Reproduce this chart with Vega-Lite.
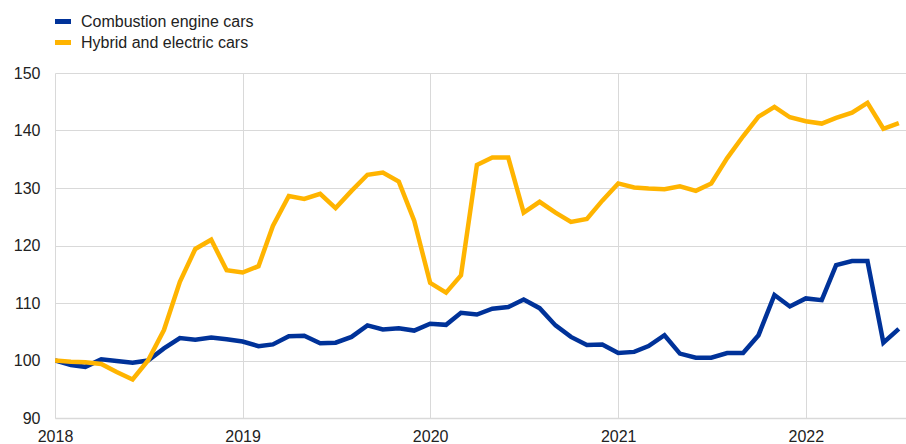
{
  "$schema": "https://vega.github.io/schema/vega-lite/v6.json",
  "width": 851,
  "height": 345,
  "autosize": {"type": "none"},
  "padding": {"left": 55, "top": 73, "right": 0, "bottom": 26},
  "background": "white",
  "config": {
    "view": {"stroke": null},
    "font": "Liberation Sans",
    "axis": {"labelFont": "Liberation Sans", "labelFontSize": 16, "labelColor": "#222222", "gridColor": "#d9d9d9", "gridWidth": 1, "ticks": false, "title": null},
    "legend": {"labelFont": "Liberation Sans", "labelFontSize": 16, "labelColor": "#222222", "labelLimit": 400}
  },
  "data": {
    "values": [
      {"date": "2018-01-01", "Combustion engine cars": 100.0, "Hybrid and electric cars": 100.0},
      {"date": "2018-02-01", "Combustion engine cars": 99.2, "Hybrid and electric cars": 99.8},
      {"date": "2018-03-01", "Combustion engine cars": 98.9, "Hybrid and electric cars": 99.7},
      {"date": "2018-04-01", "Combustion engine cars": 100.2, "Hybrid and electric cars": 99.4},
      {"date": "2018-05-01", "Combustion engine cars": 99.9, "Hybrid and electric cars": 98.0},
      {"date": "2018-06-01", "Combustion engine cars": 99.6, "Hybrid and electric cars": 96.7},
      {"date": "2018-07-01", "Combustion engine cars": 100.0, "Hybrid and electric cars": 100.0},
      {"date": "2018-08-01", "Combustion engine cars": 102.1, "Hybrid and electric cars": 105.3},
      {"date": "2018-09-01", "Combustion engine cars": 103.9, "Hybrid and electric cars": 113.7},
      {"date": "2018-10-01", "Combustion engine cars": 103.6, "Hybrid and electric cars": 119.4},
      {"date": "2018-11-01", "Combustion engine cars": 104.0, "Hybrid and electric cars": 121.0},
      {"date": "2018-12-01", "Combustion engine cars": 103.7, "Hybrid and electric cars": 115.7},
      {"date": "2019-01-01", "Combustion engine cars": 103.3, "Hybrid and electric cars": 115.3},
      {"date": "2019-02-01", "Combustion engine cars": 102.5, "Hybrid and electric cars": 116.4},
      {"date": "2019-03-01", "Combustion engine cars": 102.8, "Hybrid and electric cars": 123.4},
      {"date": "2019-04-01", "Combustion engine cars": 104.2, "Hybrid and electric cars": 128.6},
      {"date": "2019-05-01", "Combustion engine cars": 104.3, "Hybrid and electric cars": 128.1},
      {"date": "2019-06-01", "Combustion engine cars": 103.0, "Hybrid and electric cars": 129.0},
      {"date": "2019-07-01", "Combustion engine cars": 103.1, "Hybrid and electric cars": 126.5},
      {"date": "2019-08-01", "Combustion engine cars": 104.1, "Hybrid and electric cars": 129.5},
      {"date": "2019-09-01", "Combustion engine cars": 106.1, "Hybrid and electric cars": 132.3},
      {"date": "2019-10-01", "Combustion engine cars": 105.4, "Hybrid and electric cars": 132.7},
      {"date": "2019-11-01", "Combustion engine cars": 105.6, "Hybrid and electric cars": 131.1},
      {"date": "2019-12-01", "Combustion engine cars": 105.2, "Hybrid and electric cars": 124.3},
      {"date": "2020-01-01", "Combustion engine cars": 106.4, "Hybrid and electric cars": 113.5},
      {"date": "2020-02-01", "Combustion engine cars": 106.2, "Hybrid and electric cars": 111.8},
      {"date": "2020-03-01", "Combustion engine cars": 108.3, "Hybrid and electric cars": 114.8},
      {"date": "2020-04-01", "Combustion engine cars": 108.0, "Hybrid and electric cars": 134.0},
      {"date": "2020-05-01", "Combustion engine cars": 109.0, "Hybrid and electric cars": 135.3},
      {"date": "2020-06-01", "Combustion engine cars": 109.3, "Hybrid and electric cars": 135.3},
      {"date": "2020-07-01", "Combustion engine cars": 110.6, "Hybrid and electric cars": 125.7},
      {"date": "2020-08-01", "Combustion engine cars": 109.1, "Hybrid and electric cars": 127.6},
      {"date": "2020-09-01", "Combustion engine cars": 106.1, "Hybrid and electric cars": 125.7},
      {"date": "2020-10-01", "Combustion engine cars": 104.1, "Hybrid and electric cars": 124.1},
      {"date": "2020-11-01", "Combustion engine cars": 102.7, "Hybrid and electric cars": 124.6},
      {"date": "2020-12-01", "Combustion engine cars": 102.8, "Hybrid and electric cars": 127.8},
      {"date": "2021-01-01", "Combustion engine cars": 101.3, "Hybrid and electric cars": 130.8},
      {"date": "2021-02-01", "Combustion engine cars": 101.5, "Hybrid and electric cars": 130.1},
      {"date": "2021-03-01", "Combustion engine cars": 102.5, "Hybrid and electric cars": 129.9},
      {"date": "2021-04-01", "Combustion engine cars": 104.4, "Hybrid and electric cars": 129.8},
      {"date": "2021-05-01", "Combustion engine cars": 101.2, "Hybrid and electric cars": 130.3},
      {"date": "2021-06-01", "Combustion engine cars": 100.5, "Hybrid and electric cars": 129.5},
      {"date": "2021-07-01", "Combustion engine cars": 100.5, "Hybrid and electric cars": 130.8},
      {"date": "2021-08-01", "Combustion engine cars": 101.3, "Hybrid and electric cars": 135.2},
      {"date": "2021-09-01", "Combustion engine cars": 101.3, "Hybrid and electric cars": 139.0},
      {"date": "2021-10-01", "Combustion engine cars": 104.4, "Hybrid and electric cars": 142.4},
      {"date": "2021-11-01", "Combustion engine cars": 111.4, "Hybrid and electric cars": 144.1},
      {"date": "2021-12-01", "Combustion engine cars": 109.4, "Hybrid and electric cars": 142.3},
      {"date": "2022-01-01", "Combustion engine cars": 110.8, "Hybrid and electric cars": 141.6},
      {"date": "2022-02-01", "Combustion engine cars": 110.5, "Hybrid and electric cars": 141.2},
      {"date": "2022-03-01", "Combustion engine cars": 116.6, "Hybrid and electric cars": 142.2},
      {"date": "2022-04-01", "Combustion engine cars": 117.3, "Hybrid and electric cars": 143.1},
      {"date": "2022-05-01", "Combustion engine cars": 117.3, "Hybrid and electric cars": 144.8},
      {"date": "2022-06-01", "Combustion engine cars": 103.1, "Hybrid and electric cars": 140.3},
      {"date": "2022-07-01", "Combustion engine cars": 105.5, "Hybrid and electric cars": 141.3}
    ]
  },
  "transform": [
    {"fold": ["Combustion engine cars", "Hybrid and electric cars"], "as": ["series", "value"]}
  ],
  "mark": {"type": "line", "strokeWidth": 4.5, "strokeJoin": "miter", "clip": true},
  "encoding": {
    "x": {
      "field": "date",
      "type": "temporal",
      "scale": {
        "type": "utc",
        "domain": [
          {"year": 2018, "month": 1, "date": 1, "utc": true},
          {"year": 2022, "month": 7, "date": 15, "utc": true}
        ]
      },
      "axis": {
        "values": [
          {"year": 2018, "month": 1, "date": 1, "utc": true},
          {"year": 2019, "month": 1, "date": 1, "utc": true},
          {"year": 2020, "month": 1, "date": 1, "utc": true},
          {"year": 2021, "month": 1, "date": 1, "utc": true},
          {"year": 2022, "month": 1, "date": 1, "utc": true}
        ],
        "format": "%Y",
        "formatType": "utc",
        "labelPadding": 10,
        "domainColor": "#d9d9d9",
        "domainWidth": 1.5,
        "labelFlush": false,
        "labelOverlap": false
      }
    },
    "y": {
      "field": "value",
      "type": "quantitative",
      "scale": {"domain": [90, 150], "nice": false, "zero": false},
      "axis": {"values": [90, 100, 110, 120, 130, 140, 150], "domain": false, "labelPadding": 15}
    },
    "color": {
      "field": "series",
      "type": "nominal",
      "scale": {"domain": ["Combustion engine cars", "Hybrid and electric cars"], "range": ["#003299", "#ffb400"]},
      "legend": {
        "title": null,
        "orient": "none",
        "legendX": -2.5,
        "legendY": -62,
        "symbolType": "stroke",
        "symbolSize": 256,
        "symbolStrokeWidth": 5,
        "labelOffset": 7.5,
        "labelLimit": 400,
        "rowPadding": 0
      }
    }
  }
}
